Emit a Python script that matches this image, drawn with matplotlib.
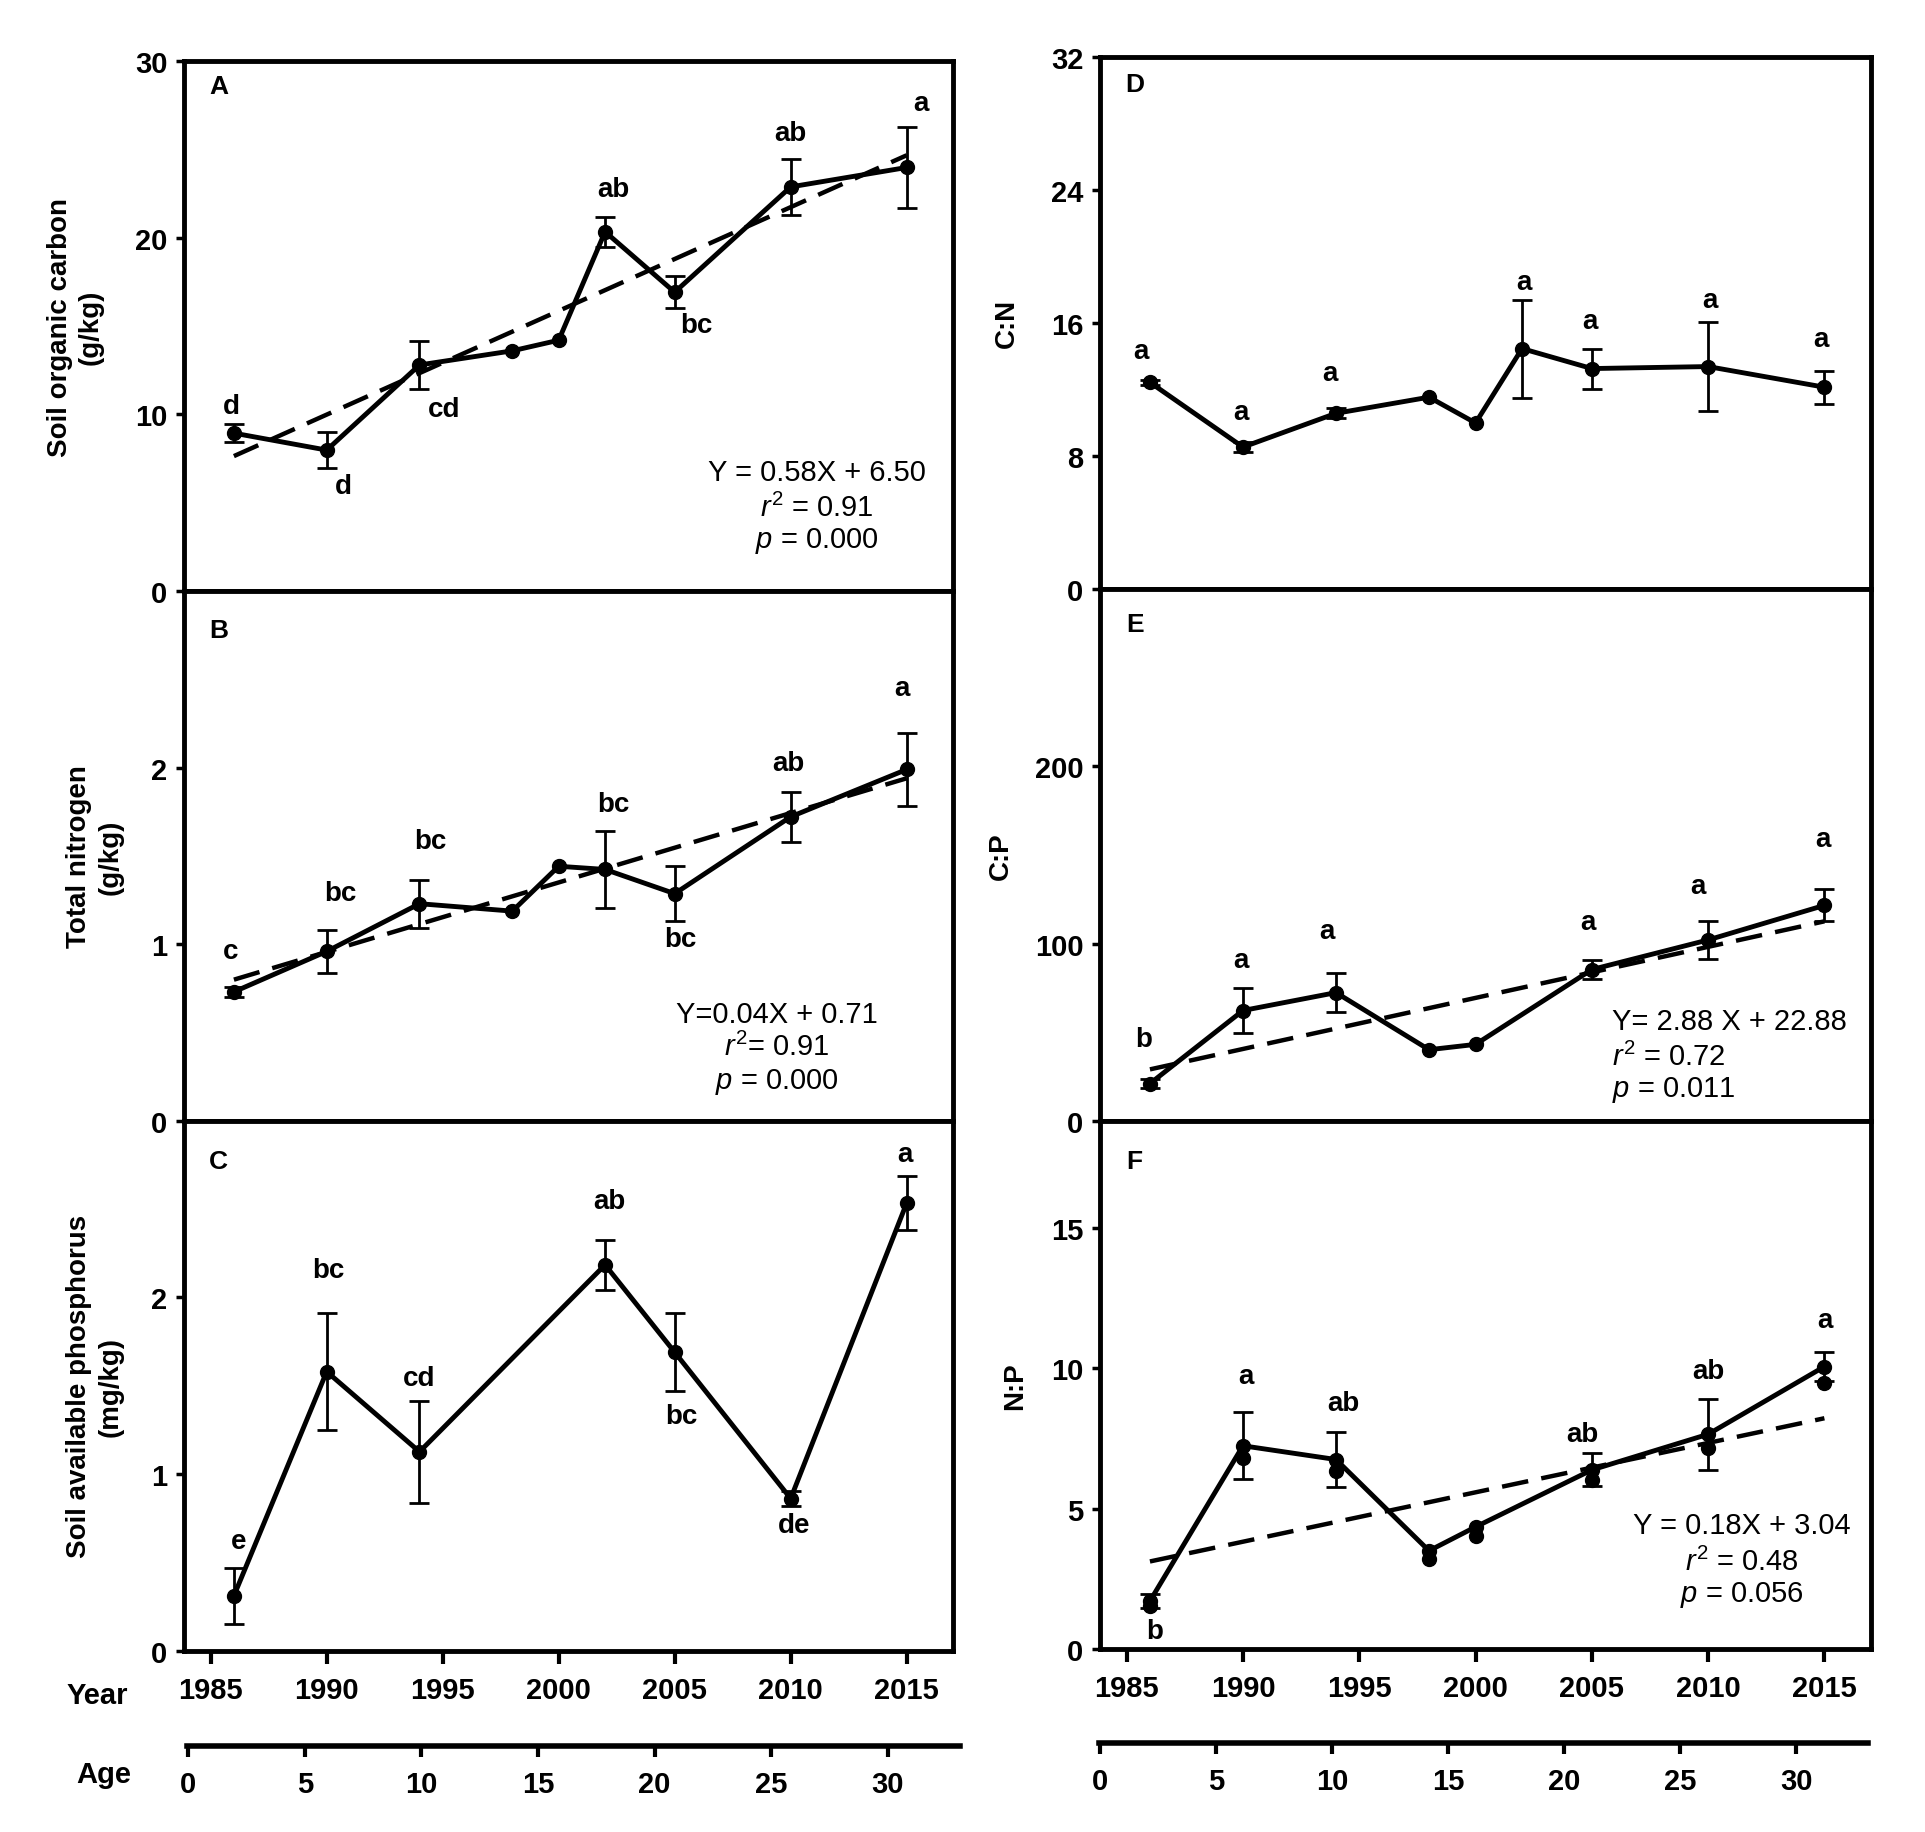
import numpy as np
import matplotlib.pyplot as plt

plt.rcParams['font.family'] = ['Liberation Sans', 'DejaVu Sans']
plt.rcParams['font.weight'] = 'bold'
plt.rcParams['mathtext.fontset'] = 'custom'
plt.rcParams['mathtext.rm'] = 'Liberation Sans:weight=normal'
plt.rcParams['mathtext.it'] = 'Liberation Sans:style=italic:weight=normal'

nan = np.nan

# sampling years
years = [1986, 1990, 1994, 1998, 2000, 2002, 2005, 2010, 2015]
years_ap = [1986, 1990, 1994, 2002, 2005, 2010, 2015]
years_ratio = [1986, 1990, 1994, 1998, 2000, 2005, 2010, 2015]

# A soil organic carbon (g/kg)
soc = [8.94, 7.98, 12.8, 13.6, 14.2, 20.34, 16.92, 22.88, 23.98]
soc_se = [0.5, 1.0, 1.35, nan, nan, 0.85, 0.9, 1.6, 2.3]
soc_letters = ['d', 'd', 'cd', '', '', 'ab', 'bc', 'ab', 'a']
soc_fit = [7.64, 24.67]
soc_eq = ['Y = 0.58X + 6.50', '$r^2$ = 0.91', '$p$ = 0.000']

# B total nitrogen (g/kg)
tn = [0.731, 0.96, 1.23, 1.188, 1.442, 1.424, 1.287, 1.722, 1.99]
tn_se = [0.03, 0.12, 0.135, nan, nan, 0.22, 0.155, 0.14, 0.205]
tn_letters = ['c', 'bc', 'bc', '', '', 'bc', 'bc', 'ab', 'a']
tn_fit = [0.80, 1.94]
tn_eq = ['Y=0.04X + 0.71', '$r^2$= 0.91', '$p$ = 0.000']

# C soil available phosphorus (mg/kg)
ap = [0.31, 1.58, 1.126, 2.185, 1.69, 0.861, 2.535]
ap_se = [0.16, 0.33, 0.29, 0.14, 0.22, 0.04, 0.155]
ap_letters = ['e', 'bc', 'cd', 'ab', 'bc', 'de', 'a']

# D C:N
cn = [12.42, 8.53, 10.56, 11.53, 9.98, 14.45, 13.25, 13.37, 12.13]
cn_se = [0.15, 0.3, 0.3, nan, nan, 2.95, 1.2, 2.7, 1.0]
cn_letters = ['a', 'a', 'a', '', '', 'a', 'a', 'a', 'a']

# E C:P
cp = [21.1, 62.3, 72.4, 40.2, 43.2, 85.4, 102.1, 121.6]
cp_se = [2.5, 12.5, 11.0, nan, nan, 5.5, 10.5, 9.0]
cp_letters = ['b', 'a', 'a', '', '', 'a', 'a', 'a']
cp_fit = [29.1, 112.6]
cp_eq = ['Y= 2.88 X + 22.88', '$r^2$ = 0.72', '$p$ = 0.011']

# F N:P (second marker set is a duplicate series in the original)
np_ratio = [1.71, 7.24, 6.75, 3.5, 4.35, 6.38, 7.65, 10.06]
np_ratio2 = [1.55, 6.8, 6.35, 3.22, 4.04, 6.02, 7.16, 9.47]
np_se = [0.25, 1.2, 0.98, nan, nan, 0.59, 1.26, 0.53]
np_letters = ['b', 'a', 'ab', '', '', 'ab', 'ab', 'a']
np_fit = [3.12, 8.22]
np_eq = ['Y = 0.18X + 3.04', '$r^2$ = 0.48', '$p$ = 0.056']

fit_years = [1986, 2015]
year_ticks = [1985, 1990, 1995, 2000, 2005, 2010, 2015]
age_ticks = [0, 5, 10, 15, 20, 25, 30]

# letter offsets in pixels from the error bar end
soc_offs = [(-3, 18), (17, -18), (25, -20), None, None, (8, 28), (22, -17), (0, 26), (14, 24)]
tn_offs = [(-3, 36), (14, 37), (11, 39), None, None, (8, 27), (6, -18), (-2, 29), (-5, 45)]
ap_offs = [(5, 27), (2, 43), (0, 23), (4, 39), (7, -25), (3, -19), (-2, 22)]
cn_offs = [(-9, 29), (-2, 30), (-6, 35), None, None, (2, 18), (-2, 28), (2, 22), (-3, 32)]
cp_offs = [(-6, 40), (-2, 28), (-9, 42), None, None, (-4, 38), (-10, 35), (-1, 50)]
np_offs = [(5, -23), (3, 36), (7, 29), None, None, (-9, 19), (0, 28), (1, 32)]

fig = plt.figure(figsize=(19.25, 18.33), dpi=100)

L, W = 0.0956, 0.3995
R, WR = 0.5714, 0.4005
axA = fig.add_axes([L, 0.6770, W, 0.2891])
axB = fig.add_axes([L, 0.3879, W, 0.2891])
axC = fig.add_axes([L, 0.0990, W, 0.2889])
axD = fig.add_axes([R, 0.6781, WR, 0.2905])
axE = fig.add_axes([R, 0.3879, WR, 0.2902])
axF = fig.add_axes([R, 0.0998, WR, 0.2880])

panels = [
    dict(ax=axA, x=years, y=soc, se=soc_se, letters=soc_letters, offs=soc_offs, fit=soc_fit, eq=soc_eq,
         ylim=(0, 30), yticks=[0, 10, 20, 30], ylabel='Soil organic carbon\n(g/kg)', lx=-0.104,
         tag='A', tagy=0.953, eqpos=(0.823, [0.2245, 0.157, 0.096]), eqha='center'),
    dict(ax=axB, x=years, y=tn, se=tn_se, letters=tn_letters, offs=tn_offs, fit=tn_fit, eq=tn_eq,
         ylim=(0, 3), yticks=[0, 1, 2], ylabel='Total nitrogen\n(g/kg)', lx=-0.079,
         tag='B', tagy=0.927, eqpos=(0.771, [0.202, 0.140, 0.0755]), eqha='center'),
    dict(ax=axC, x=years_ap, y=ap, se=ap_se, letters=ap_letters, offs=ap_offs, fit=None, eq=None,
         ylim=(0, 3), yticks=[0, 1, 2], ylabel='Soil available phosphorus\n(mg/kg)', lx=-0.079,
         tag='C', tagy=0.925),
    dict(ax=axD, x=years, y=cn, se=cn_se, letters=cn_letters, offs=cn_offs, fit=None, eq=None,
         ylim=(0, 32), yticks=[0, 8, 16, 24, 32], ylabel='C:N', lx=-0.104,
         tag='D', tagy=0.948),
    dict(ax=axE, x=years_ratio, y=cp, se=cp_se, letters=cp_letters, offs=cp_offs, fit=cp_fit, eq=cp_eq,
         ylim=(0, 300), yticks=[0, 100, 200], ylabel='C:P', lx=-0.111,
         tag='E', tagy=0.934, eqpos=(0.664, [0.188, 0.122, 0.060]), eqha='left'),
    dict(ax=axF, x=years_ratio, y=np_ratio, se=np_se, letters=np_letters, offs=np_offs, fit=np_fit, eq=np_eq,
         ylim=(0, 18.8), yticks=[0, 5, 10, 15], ylabel='N:P', lx=-0.093,
         tag='F', tagy=0.924, eqpos=(0.833, [0.235, 0.167, 0.104]), eqha='center'),
]

for p in panels:
    ax = p['ax']
    x = np.array(p['x'], dtype=float)
    y = np.array(p['y'], dtype=float)
    se = np.array(p['se'], dtype=float)
    m = ~np.isnan(se)
    ax.errorbar(x[m], y[m], yerr=se[m], fmt='none', ecolor='black',
                elinewidth=2, capsize=7, capthick=2, zorder=2)
    ax.plot(x, y, '-o', color='black', lw=3.5, ms=10, zorder=3)
    if p['fit'] is not None:
        ax.plot(fit_years, p['fit'], color='black', lw=3.2, ls=(0, (6, 3)), zorder=4)

    for xi, yi, ei, lab, off in zip(x, y, se, p['letters'], p['offs']):
        if not lab:
            continue
        e = 0 if np.isnan(ei) else ei
        base = yi + e if off[1] > 0 else yi - e
        ax.annotate(lab, (xi, base), xytext=off, textcoords='offset pixels',
                    ha='center', va='center', fontsize=20, fontweight='bold')

    if p['eq'] is not None:
        ex, eys = p['eqpos']
        for line, ey in zip(p['eq'], eys):
            ax.text(ex, ey, line, transform=ax.transAxes, ha=p['eqha'], va='center',
                    fontsize=21, fontweight='normal')

    ax.text(0.045, p['tagy'], p['tag'], transform=ax.transAxes, ha='center', va='center',
            fontsize=19, fontweight='bold')

    ax.set_xlim(1983.85, 2017.0)
    ax.set_ylim(*p['ylim'])
    ax.set_yticks(p['yticks'])
    ax.set_ylabel(p['ylabel'], fontsize=20, fontweight='bold', linespacing=1.25)
    ax.yaxis.set_label_coords(p['lx'], 0.5)
    for s in ax.spines.values():
        s.set_linewidth(3.5)
    ax.tick_params(axis='y', direction='out', length=6, width=2.5, labelsize=21, pad=6)
    ax.set_xticks(year_ticks)
    ax.tick_params(axis='x', direction='out', length=9, width=3, labelsize=21, pad=9)
    if ax not in (axC, axF):
        ax.tick_params(axis='x', bottom=False, labelbottom=False)

# ghost marker series in F
axF.plot(years_ratio, np_ratio2, 'o', color='black', ms=10, zorder=3)

# separate age axes under each column
for rect in ([0.0973, 0.0469, 0.4014, 0.0001], [0.5709, 0.0486, 0.3995, 0.0001]):
    ag = fig.add_axes(rect)
    ag.patch.set_visible(False)
    for side in ('top', 'left', 'right'):
        ag.spines[side].set_visible(False)
    ag.spines['bottom'].set_linewidth(4)
    ag.set_yticks([])
    ag.set_xlim(-0.04, 33.1)
    ag.set_xticks(age_ticks)
    ag.tick_params(axis='x', direction='out', length=8, width=3, labelsize=21, pad=9)

fig.text(97 / 1925, 1 - 1696 / 1833, 'Year', ha='center', va='center', fontsize=21, fontweight='bold')
fig.text(104 / 1925, 1 - 1775 / 1833, 'Age', ha='center', va='center', fontsize=21, fontweight='bold')

fig.savefig('out.png', dpi=100)
